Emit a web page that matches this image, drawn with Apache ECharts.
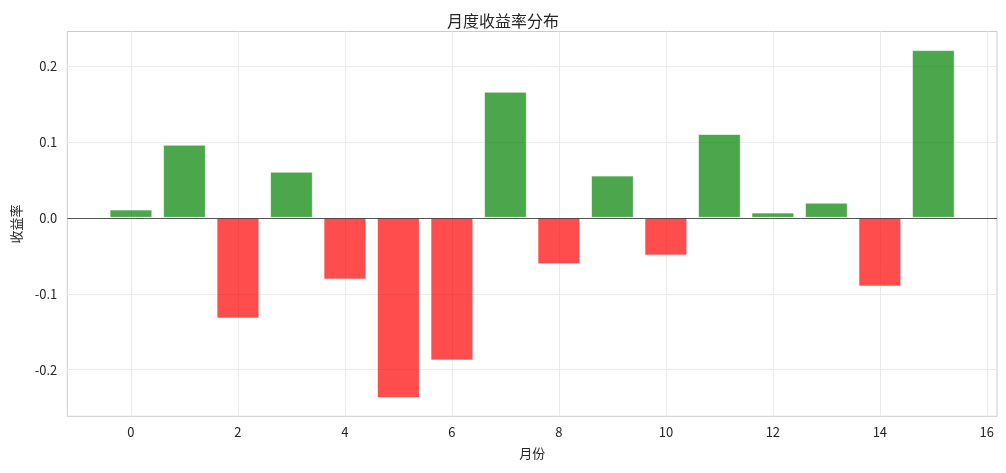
<!DOCTYPE html>
<html>
<head>
<meta charset="utf-8">
<script src="https://cdn.jsdelivr.net/npm/echarts@6/dist/echarts.min.js"></script>
<style>
html, body { margin: 0; padding: 0; background: #fff; }
#main { width: 1006px; height: 473px; }
</style>
</head>
<body>
<div id="main"></div>
<script>
// 月份
var months = [0, 1, 2, 3, 4, 5, 6, 7, 8, 9, 10, 11, 12, 13, 14, 15];
// 收益率
var returns = [0.011, 0.0964, -0.1325, 0.0609, -0.0812, -0.2374, -0.1878, 0.1662,
    -0.061, 0.0557, -0.0496, 0.1105, 0.007, 0.020, -0.0904, 0.221];
var xTicks = [0, 2, 4, 6, 8, 10, 12, 14, 16];
var yTicks = [-0.2, -0.1, 0.0, 0.1, 0.2];

var xMin = -1.19, xMax = 16.19;
var yMin = -0.2614, yMax = 0.2455;
var gridLeft = 67.3, gridRight = 9, gridTop = 31.5, gridBottom = 56.7;

var fontCJK = '"Noto Sans CJK SC", "Noto Sans", sans-serif';

var data = [];
for (var i = 0; i < months.length; i++) {
    data.push([months[i], returns[i]]);
}

var chart = echarts.init(document.getElementById('main'));
// 柱宽 0.8 个单位
var plotW = 1006 - gridLeft - gridRight;
var barW = 0.8 * plotW / (xMax - xMin);

var option = {
    animation: false,
    backgroundColor: '#fff',
    title: {
        text: '月度收益率分布',
        left: 'center',
        top: 8,
        textStyle: { fontFamily: fontCJK, fontSize: 16, fontWeight: 'normal', color: '#262626' }
    },
    grid: {
        left: gridLeft, right: gridRight, top: gridTop, bottom: gridBottom,
        show: true, borderColor: '#cccccc', borderWidth: 1, backgroundColor: 'transparent'
    },
    xAxis: {
        type: 'value',
        min: xMin, max: xMax,
        name: '月份',
        nameLocation: 'middle',
        nameGap: 30,
        nameTextStyle: { fontFamily: fontCJK, fontSize: 13, color: '#262626' },
        axisLine: { show: false },
        axisTick: { show: false, customValues: xTicks },
        axisLabel: {
            customValues: xTicks,
            margin: 9,
            fontFamily: fontCJK, fontSize: 13, color: '#262626'
        },
        splitLine: { show: true, lineStyle: { color: '#ebebeb', width: 1 } }
    },
    yAxis: {
        type: 'value',
        min: yMin, max: yMax,
        name: '收益率',
        nameLocation: 'middle',
        nameGap: 45,
        nameTextStyle: { fontFamily: fontCJK, fontSize: 13, color: '#262626' },
        axisLine: { show: false },
        axisTick: { show: false, customValues: yTicks },
        axisLabel: {
            customValues: yTicks,
            margin: 10,
            fontFamily: fontCJK, fontSize: 13, color: '#262626',
            formatter: function (v) { return v.toFixed(1); }
        },
        splitLine: { show: true, lineStyle: { color: '#ebebeb', width: 1 } }
    },
    series: [{
        type: 'bar',
        data: data,
        barWidth: barW,
        itemStyle: {
            color: function (p) {
                return p.value[1] >= 0 ? 'rgba(0,128,0,0.7)' : 'rgba(255,0,0,0.7)';
            },
            borderColor: 'rgba(255,255,255,0.6)',
            borderWidth: 1
        },
        markLine: {
            silent: true,
            symbol: 'none',
            label: { show: false },
            lineStyle: { color: '#000', width: 0.8, type: 'solid', opacity: 0.8 },
            data: [{ yAxis: 0 }]
        }
    }]
};
chart.setOption(option);
</script>
</body>
</html>
